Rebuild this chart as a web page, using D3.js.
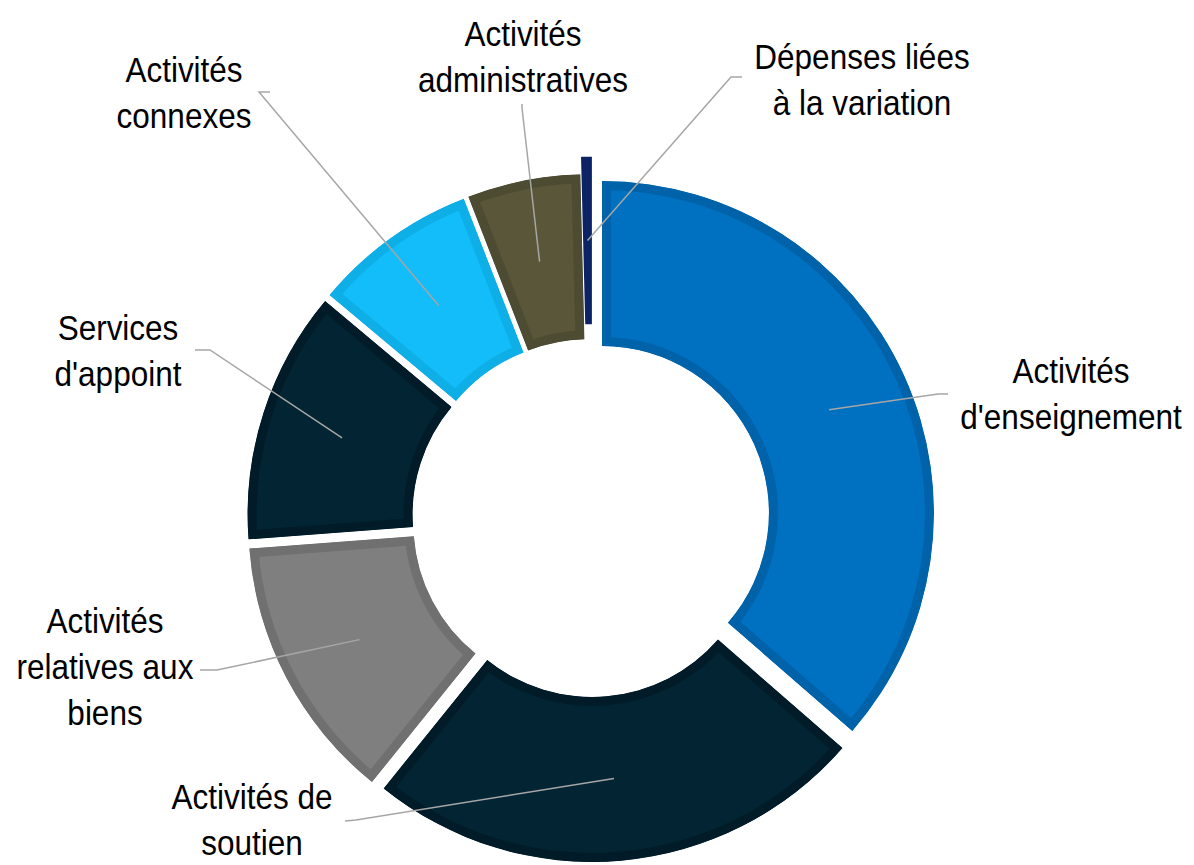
<!DOCTYPE html>
<html>
<head>
<meta charset="utf-8">
<title>Dépenses par fonction</title>
<script src="https://cdn.jsdelivr.net/npm/d3@7"></script>
<style>
    body { margin: 0; background: #ffffff; }
    text { font-family: "Liberation Sans", Arial, sans-serif; }
</style>
</head>
<body>
<div id="chart-area"></div>
<script>

// slices, clockwise from 12 o'clock
var categories = [
    "Activités d'enseignement",
    "Activités de soutien",
    "Activités relatives aux biens",
    "Services d'appoint",
    "Activités connexes",
    "Activités administratives",
    "Dépenses liées à la variation"
];
var values = [36.4, 24.4, 13.0, 12.3, 8.0, 5.5, 0.4];
var labelLines = [
    ["Activités", "d'enseignement"],
    ["Activités de", "soutien"],
    ["Activités", "relatives aux", "biens"],
    ["Services", "d'appoint"],
    ["Activités", "connexes"],
    ["Activités", "administratives"],
    ["Dépenses liées", "à la variation"]
];

// styling
var fills   = ["#0070c0", "#022433", "#7f7f7f", "#022433", "#12bdfa", "#595639", "#0c2466"];
var borders = ["#0062a9", "#011c28", "#707070", "#011c28", "#0eaee6", "#4d4b32", "#0c2466"];
var explode = [12, 12, 12, 12, 12, 12, 28];

// label layout: text centre x, first baseline, leader start + tick end
var labelLayout = [
    { x: 1071, y: 383, a: [948, 394], b: [938, 394] },
    { x: 252,  y: 809, a: [345, 821], b: [356, 820] },
    { x: 105,  y: 633, a: [200, 670], b: [217, 670] },
    { x: 118,  y: 340, a: [195, 350], b: [210, 350] },
    { x: 184,  y: 82,  a: [270, 92],  b: [259, 92] },
    { x: 523,  y: 46,  a: [522, 104], b: [522, 108] },
    { x: 862,  y: 69,  a: [742, 77],  b: [731, 77] }
];

var width = 1194, height = 865;
var cx = 591, cy = 518;
var outerR = 332, innerR = 167;
var lineH = 46;
var squeeze = 0.9;   // condensed look for the labels

var svg = d3.select("#chart-area")
    .append("svg")
    .attr("width", width)
    .attr("height", height);

var pie = d3.pie()
    .sort(null)
    .value(function(d) { return d; });

var arc = d3.arc()
    .innerRadius(innerR)
    .outerRadius(outerR);

var slices = pie(values);

// offset of each exploded slice along its mid angle
function offset(d, i) {
    var mid = (d.startAngle + d.endAngle) / 2;
    return [Math.sin(mid) * explode[i], -Math.cos(mid) * explode[i]];
}

var defs = svg.append("defs");
defs.selectAll("clipPath")
    .data(slices)
    .enter()
    .append("clipPath")
    .attr("id", function(d, i) { return "clip" + i; })
    .append("path")
    .attr("d", arc);

var g = svg.append("g")
    .attr("transform", "translate(" + cx + "," + cy + ")");

g.selectAll("path.slice")
    .data(slices)
    .enter()
    .append("path")
    .attr("class", "slice")
    .attr("transform", function(d, i) {
        var o = offset(d, i);
        return "translate(" + o[0] + "," + o[1] + ")";
    })
    .attr("d", arc)
    .attr("fill", function(d, i) { return fills[i]; })
    .attr("stroke", function(d, i) { return borders[i]; })
    .attr("stroke-width", function(d, i) { return i === 6 ? 2.5 : 18; })
    .attr("stroke-linejoin", "miter")
    .attr("clip-path", function(d, i) { return i === 6 ? null : "url(#clip" + i + ")"; });

// leader lines: label -> tick -> middle of the slice
svg.selectAll("polyline.leader")
    .data(slices)
    .enter()
    .append("polyline")
    .attr("class", "leader")
    .attr("points", function(d, i) {
        var o = offset(d, i);
        var c = arc.centroid(d);
        var L = labelLayout[i];
        return [L.a, L.b, [cx + o[0] + c[0], cy + o[1] + c[1]]].join(" ");
    })
    .attr("fill", "none")
    .attr("stroke", "#a6a6a6")
    .attr("stroke-width", 1.5);

var labels = svg.selectAll("text.label")
    .data(categories)
    .enter()
    .append("text")
    .attr("class", "label")
    .attr("text-anchor", "middle")
    .attr("font-size", 35)
    .attr("fill", "#000000")
    .attr("transform", function(d, i) {
        return "translate(" + labelLayout[i].x + "," + labelLayout[i].y + ") scale(" + squeeze + ",1)";
    });

labels.selectAll("tspan")
    .data(function(d, i) {
        return labelLines[i].map(function(t, j) { return { t: t, j: j }; });
    })
    .enter()
    .append("tspan")
    .attr("x", 0)
    .attr("dy", function(d) { return d.j === 0 ? 0 : lineH; })
    .text(function(d) { return d.t; });

</script>
</body>
</html>
